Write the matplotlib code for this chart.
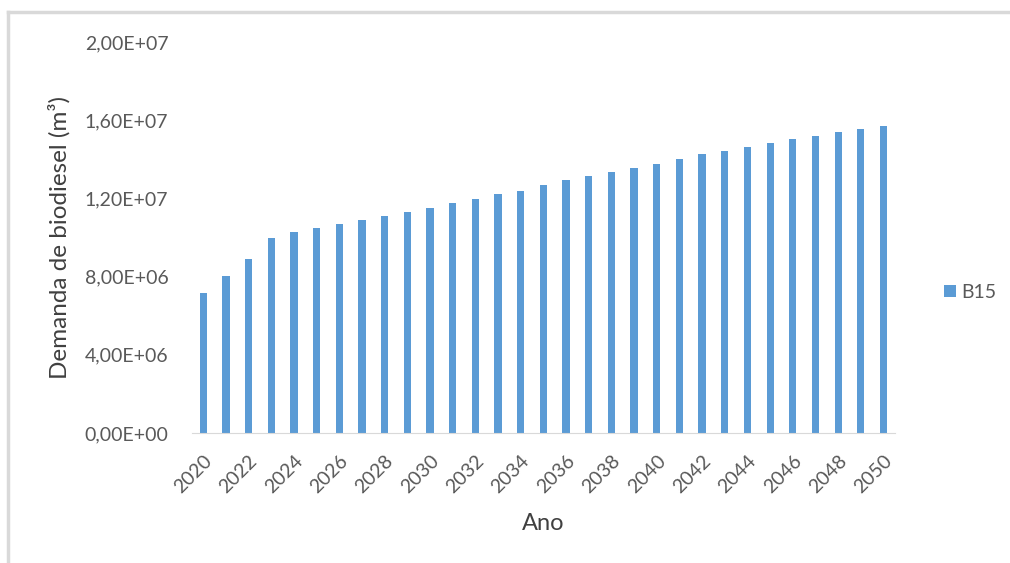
import numpy as np
import matplotlib.pyplot as plt
from matplotlib.lines import Line2D
from matplotlib.ticker import FuncFormatter, MultipleLocator

plt.rcParams['font.family'] = ['Lato', 'DejaVu Sans']

anos = list(range(2020, 2051))
# demanda de biodiesel B15 (m³)
demanda_b15 = [7.18e6, 8.05e6, 8.92e6, 10.0e6, 10.27e6, 10.51e6, 10.68e6, 10.89e6,
               11.09e6, 11.32e6, 11.52e6, 11.78e6, 11.98e6, 12.22e6, 12.41e6, 12.67e6,
               12.94e6, 13.13e6, 13.38e6, 13.55e6, 13.79e6, 14.0e6, 14.26e6, 14.45e6,
               14.63e6, 14.84e6, 15.03e6, 15.22e6, 15.42e6, 15.54e6, 15.71e6]
serie = 'B15'

cinza = '#595959'

fig = plt.figure(figsize=(10.1, 5.63), dpi=100)
ax = fig.add_axes([0.19, 0.231, 0.696, 0.694])

x = np.arange(len(anos))
ax.bar(x, demanda_b15, width=0.32, color='#5B9BD5', label=serie, zorder=2)

ax.set_xlim(-0.5, len(anos) - 0.5)
ax.set_ylim(0, 2.0e7)
ax.yaxis.set_major_locator(MultipleLocator(4e6))

def fmt_excel(v, pos):
    return f'{v:.2E}'.replace('.', ',')

ax.yaxis.set_major_formatter(FuncFormatter(fmt_excel))
ax.set_xticks(x[::2])
ax.set_xticklabels([str(a) for a in anos[::2]], rotation=45, ha='right',
                   rotation_mode='anchor')

for s in ['top', 'right', 'left']:
    ax.spines[s].set_visible(False)
ax.spines['bottom'].set_color('#d9d9d9')
ax.tick_params(axis='both', length=0, colors=cinza, labelsize=14)
ax.tick_params(axis='y', pad=17)
ax.tick_params(axis='x', pad=14)

ax.set_ylabel('Demanda de biodiesel (m³)', fontsize=17.5, color='#404040', labelpad=10)
ax.set_xlabel('Ano', fontsize=17, color='#404040', labelpad=12)

ax.legend(loc='center left', bbox_to_anchor=(1.045, 0.36), frameon=False,
          handlelength=0.6, handleheight=0.6, handletextpad=0.3,
          fontsize=14, labelcolor=cinza)

# moldura (só topo e esquerda aparecem)
fig.add_artist(Line2D([8 / 1010, 8 / 1010], [0, 1 - 12 / 563], transform=fig.transFigure,
                      color='#d9d9d9', linewidth=2.5))
fig.add_artist(Line2D([8 / 1010, 1], [1 - 12 / 563, 1 - 12 / 563], transform=fig.transFigure,
                      color='#d9d9d9', linewidth=2.5))

fig.savefig('out.png', dpi=100)
